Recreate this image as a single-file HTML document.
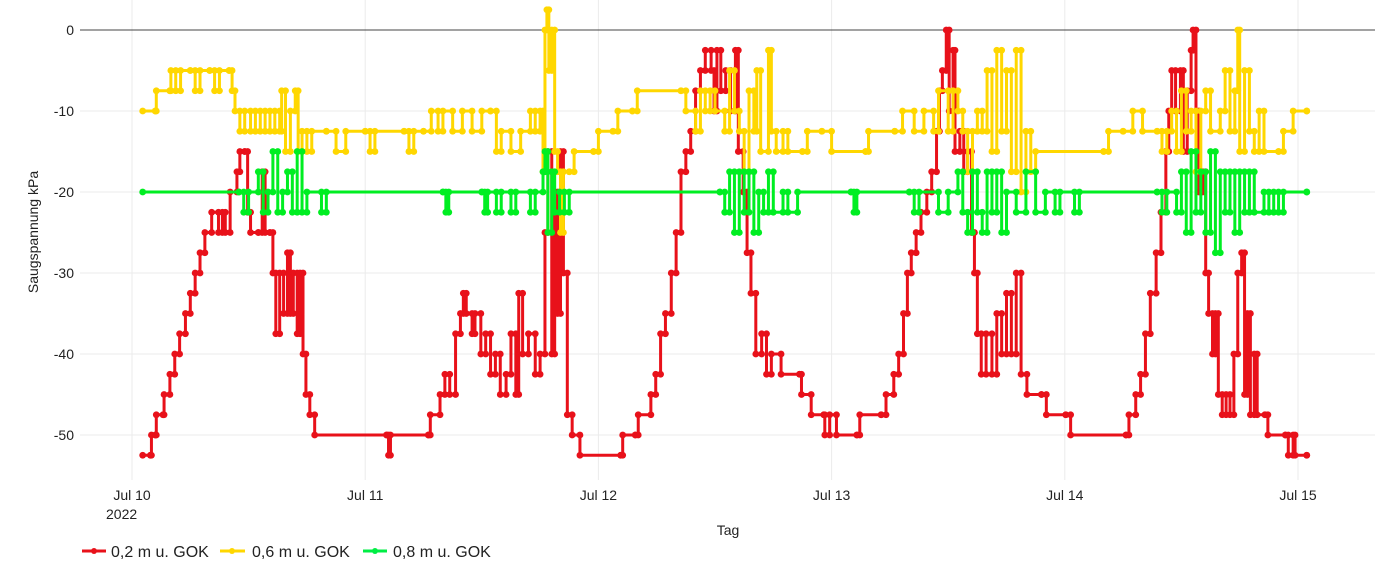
<!DOCTYPE html>
<html><head><meta charset="utf-8">
<style>
html,body{margin:0;padding:0;background:#fff;}
svg{display:block;font-family:"Liberation Sans",sans-serif;}
</style></head>
<body>
<svg id="chart" width="1385" height="575" viewBox="0 0 1385 575" xmlns="http://www.w3.org/2000/svg">
<g id="grid"></g>
<g id="series"></g>
<g id="axes"></g>
<text x="38" y="232" transform="rotate(-90 38 232)" text-anchor="middle" font-size="14" fill="#222">Saugspannung kPa</text>
<text x="728" y="535" text-anchor="middle" font-size="14" fill="#222">Tag</text>
<g>
 <g>
  <line x1="82" y1="551" x2="106" y2="551" stroke="#e8111a" stroke-width="3"/><circle cx="94" cy="551" r="3" fill="#e8111a"/>
  <text x="111" y="557" font-size="16" fill="#222">0,2 m u. GOK</text></g>
 <g>
  <line x1="220" y1="551" x2="245" y2="551" stroke="#ffd700" stroke-width="3"/><circle cx="232" cy="551" r="3" fill="#ffd700"/>
  <text x="252" y="557" font-size="16" fill="#222">0,6 m u. GOK</text></g>
 <g>
  <line x1="363" y1="551" x2="387" y2="551" stroke="#00ee44" stroke-width="3"/><circle cx="375" cy="551" r="3" fill="#00ee44"/>
  <text x="393" y="557" font-size="16" fill="#222">0,8 m u. GOK</text></g>
</g>
</svg>
<script>
// hours since Jul 10 2022 00:00
const yTicks = [0,-10,-20,-30,-40,-50];
const xTickDays = [0,1,2,3,4,5];
const xTickLabels = ["Jul 10","Jul 11","Jul 12","Jul 13","Jul 14","Jul 15"];
const redT = [1.1,1.9,2.0,2.4,2.5,3.2,3.3,3.9,4.4,4.9,5.5,6.0,6.5,7.0,7.5,8.2,8.9,9.3,9.6,10.1,10.8,11.1,11.6,11.9,12.2,13.0,13.4,13.7,14.2,14.5,14.8,15.2,15.6,16.0,16.3,16.6,17.0,17.3,17.6,17.9,18.3,18.8,26.2,26.4,26.6,30.5,30.7,31.7,32.2,32.7,33.3,33.8,34.1,34.4,35.0,35.3,35.9,36.4,36.9,37.4,37.9,38.5,39.0,39.5,39.8,40.2,40.8,41.5,42.0,42.5,42.8,43.2,43.5,43.8,44.1,44.4,44.8,45.3,46.1,50.3,50.5,51.8,52.1,53.4,53.9,54.4,54.9,55.5,56.0,56.5,57.0,57.5,58.0,58.5,59.0,59.6,59.9,60.2,60.6,61.1,61.6,62.1,62.4,62.9,63.3,63.7,64.2,64.8,65.3,65.8,66.8,68.7,68.9,69.9,71.2,71.3,71.8,72.5,74.6,74.9,77.1,77.6,78.4,78.9,79.4,79.8,80.2,80.7,81.2,81.8,82.3,82.8,83.1,83.4,83.8,84.1,84.5,84.7,85.2,85.6,86.0,86.4,86.7,87.0,87.4,87.9,88.5,89.0,89.5,90.0,90.5,91.0,91.5,92.1,93.6,94.1,96.1,96.6,102.3,102.6,103.3,103.8,104.3,104.8,105.4,105.9,106.4,106.7,107.0,107.4,107.9,108.2,108.6,109.0,109.2,109.5,109.8,110.2,110.5,110.8,111.2,111.5,111.8,112.2,112.6,113.0,113.4,113.8,114.2,114.5,114.8,115.1,115.5,115.8,116.6,116.9,118.7,119.0,119.5,119.7,120.9];
const redV = [-52.5,-52.5,-50,-50,-47.5,-47.5,-45,-42.5,-40,-37.5,-35,-32.5,-30,-27.5,-25,-22.5,-25,-22.5,-25,-20,-17.5,-15,-15,-22.5,-25,-25,-17.5,-25,-25,-30,-37.5,-30,-35,-27.5,-35,-30,-37.5,-30,-40,-45,-47.5,-50,-50,-52.5,-50,-50,-47.5,-45,-42.5,-45,-37.5,-35,-32.5,-35,-37.5,-35,-40,-37.5,-42.5,-40,-45,-42.5,-37.5,-45,-32.5,-40,-37.5,-42.5,-40,-25,-15,-40,-20,-35,-15,-30,-47.5,-50,-52.5,-52.5,-50,-50,-47.5,-45,-42.5,-37.5,-35,-30,-25,-17.5,-15,-12.5,-7.5,-5,-2.5,-5,-10,-2.5,-7.5,-5,-10,-2.5,-15,-20,-27.5,-32.5,-40,-37.5,-42.5,-40,-42.5,-42.5,-45,-47.5,-47.5,-50,-47.5,-50,-50,-47.5,-47.5,-45,-42.5,-40,-35,-30,-27.5,-25,-22.5,-20,-17.5,-12.5,-7.5,-5,0,-10,-2.5,-15,-12.5,-17.5,-15,-25,-30,-37.5,-42.5,-37.5,-42.5,-35,-40,-32.5,-40,-30,-42.5,-45,-45,-47.5,-47.5,-50,-50,-47.5,-45,-42.5,-37.5,-32.5,-27.5,-22.5,-15,-10,-5,-10,-5,-15,-7.5,-2.5,0,-10,-20,-17.5,-30,-35,-40,-35,-45,-47.5,-45,-47.5,-40,-30,-27.5,-45,-35,-47.5,-40,-47.5,-47.5,-50,-50,-52.5,-50,-52.5,-52.5];
const yelT = [1.1,2.4,2.5,3.9,4.0,4.5,5.0,6.0,6.5,7.0,8.0,8.5,9.0,10.0,10.3,10.6,11.1,11.6,12.2,12.7,13.2,13.7,14.2,14.7,15.2,15.4,15.8,16.3,16.8,17.1,17.5,18.0,18.5,20,21,22,24,24.5,25,28,28.5,29,30,30.8,31.5,32,33,34,35,36,36.9,37.5,38,39,40,41,41.5,42,42.3,42.5,42.7,42.9,43.2,43.5,43.8,44.1,44.4,45,45.5,47.5,48,49.5,50,51.5,52,56.5,57,58,58.5,59,59.5,60,61,61.5,62,62.5,63,63.5,64,64.3,64.7,65.5,65.8,66.3,67,67.5,69,69.5,71,72,75.5,75.8,78.5,79.3,80.5,81.5,82.5,83,84,84.5,85,85.5,86,86.5,87,87.5,88,88.5,89,89.5,90,90.5,91,91.5,92,92.5,93,100,100.5,102,103,104,105.5,106,106.5,107,107.5,108,108.5,109,109.5,110,110.5,111,112,112.5,113,113.5,113.8,114,114.5,115,115.5,116,116.5,118,118.5,119.5,120.9];
const yelV = [-10,-10,-7.5,-7.5,-5,-7.5,-5,-5,-7.5,-5,-5,-7.5,-5,-5,-7.5,-10,-12.5,-10,-12.5,-10,-12.5,-10,-12.5,-10,-12.5,-7.5,-15,-10,-7.5,-15,-12.5,-15,-12.5,-12.5,-15,-12.5,-12.5,-15,-12.5,-12.5,-15,-12.5,-12.5,-10,-12.5,-10,-12.5,-10,-12.5,-10,-10,-15,-12.5,-15,-12.5,-10,-12.5,-10,-17.5,0,2.5,-5,0,-15,-17.5,-25,-17.5,-17.5,-15,-15,-12.5,-12.5,-10,-10,-7.5,-7.5,-10,-12.5,-7.5,-10,-7.5,-10,-12.5,-5,-10,-12.5,-17.5,-7.5,-12.5,-5,-15,-2.5,-12.5,-15,-12.5,-15,-15,-12.5,-12.5,-15,-15,-12.5,-12.5,-10,-12.5,-10,-12.5,-7.5,-12.5,-7.5,-10,-12.5,-17.5,-12.5,-10,-12.5,-5,-15,-2.5,-12.5,-5,-17.5,-2.5,-20,-12.5,-17.5,-15,-15,-12.5,-12.5,-10,-12.5,-12.5,-15,-12.5,-10,-15,-7.5,-12.5,-10,-17.5,-10,-7.5,-12.5,-10,-5,-12.5,-7.5,0,-15,-5,-12.5,-15,-10,-15,-15,-12.5,-10,-10];
const grnT = [1.1,11.0,11.5,12,13,13.5,14,14.5,15,15.5,16,16.5,17,17.5,18,19.5,20,32,32.3,32.6,36,36.3,36.6,37.5,38,39,39.5,41,41.5,42.3,42.5,42.8,43.2,43.5,44,44.5,45,60.5,61,61.5,62,62.5,63,63.5,64,64.5,65,65.5,66,67,67.5,68.5,74,74.3,74.6,80,80.5,81,83,84,85,85.5,86,86.5,87,87.5,88,88.5,89,89.5,90,91,92,93,94,95,95.5,97,97.5,105.5,106,106.5,107.5,108,108.5,109,109.5,110,110.5,111,111.5,112,112.5,113,113.5,114,114.5,115,115.5,116.5,117,117.5,118,118.5,120.9];
const grnV = [-20,-20,-22.5,-20,-17.5,-22.5,-20,-15,-22.5,-20,-17.5,-22.5,-15,-22.5,-20,-22.5,-20,-20,-22.5,-20,-20,-22.5,-20,-22.5,-20,-22.5,-20,-22.5,-20,-17.5,-15,-25,-17.5,-22.5,-20,-22.5,-20,-20,-22.5,-17.5,-25,-17.5,-22.5,-17.5,-25,-20,-22.5,-17.5,-22.5,-20,-22.5,-20,-20,-22.5,-20,-20,-22.5,-20,-22.5,-20,-17.5,-22.5,-25,-17.5,-22.5,-25,-17.5,-22.5,-17.5,-25,-20,-22.5,-17.5,-22.5,-20,-22.5,-20,-22.5,-20,-20,-22.5,-20,-22.5,-17.5,-25,-15,-22.5,-17.5,-25,-15,-27.5,-17.5,-22.5,-17.5,-25,-17.5,-22.5,-17.5,-22.5,-20,-22.5,-20,-22.5,-20,-20];

const NS="http://www.w3.org/2000/svg";
const X0=132, PXD=233.2, Y0=30, PXK=8.1;
function xs(h){return X0+h/24*PXD;}
function ys(v){return Y0-v*PXK;}
function mk(tag,attrs,parent){const e=document.createElementNS(NS,tag);for(const k in attrs)e.setAttribute(k,attrs[k]);parent.appendChild(e);return e;}
const grid=document.getElementById('grid'),axes=document.getElementById('axes'),ser=document.getElementById('series');
yTicks.forEach(v=>{
  if(v!==0){const g=mk('line',{x1:80,x2:1375,y1:ys(v),y2:ys(v),stroke:'#ebebeb','stroke-width':1},grid);
  
  }
  const t=mk('text',{x:74,y:ys(v)+5,'text-anchor':'end','font-size':14,fill:'#222'},axes);
  t.textContent=String(v);
  
  
});
xTickDays.forEach((d,i)=>{
  const g=mk('line',{x1:xs(d*24),x2:xs(d*24),y1:0,y2:480,stroke:'#ebebeb','stroke-width':1},grid);
  
  
  const t=mk('text',{x:xs(d*24),y:500,'text-anchor':'middle','font-size':14,fill:'#222'},axes);
  t.textContent=xTickLabels[i];
  
  
});
const yr=mk('text',{x:xs(0)-26,y:519,'font-size':14,fill:'#222'},axes);
yr.textContent='2022';


const zl=mk('line',{x1:80,x2:1375,y1:ys(0),y2:ys(0),stroke:'#444','stroke-width':1},grid);



function drawSeries(T,V,color,name){
  const g=mk('g',{},ser);
  
  
  let d='M'+xs(T[0])+','+ys(V[0]);
  for(let i=1;i<T.length;i++){d+=' H'+xs(T[i])+' V'+ys(V[i]);}
  mk('path',{d:d,fill:'none',stroke:color,'stroke-width':3,'stroke-linejoin':'round'},g);
  for(let i=0;i<T.length;i++){
    mk('circle',{cx:xs(T[i]),cy:ys(V[i]),r:3.4,fill:color},g);
    if(i>0){mk('circle',{cx:xs(T[i]),cy:ys(V[i-1]),r:3.4,fill:color},g);}
  }
}
drawSeries(redT,redV,'#e8111a','series-0-2m');
drawSeries(yelT,yelV,'#ffd700','series-0-6m');
drawSeries(grnT,grnV,'#00ee22','series-0-8m');
</script>
</body></html>
